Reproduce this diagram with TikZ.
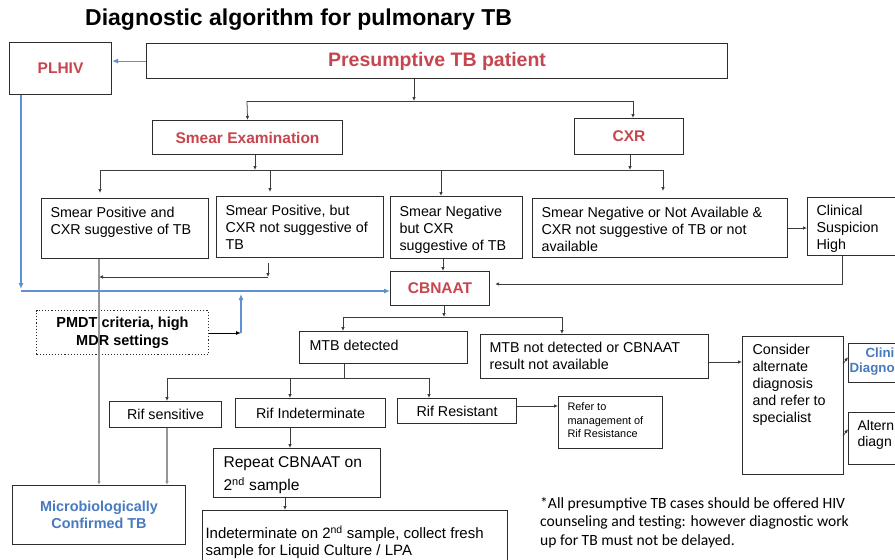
\documentclass[tikz,border=0pt]{standalone}
\usepackage{fontspec}
\setmainfont{Liberation Sans}
\newfontfamily\calfont{Carlito}
\usetikzlibrary{arrows.meta}
\definecolor{tbred}{RGB}{199,69,78}
\definecolor{tbblue}{RGB}{72,122,192}
\definecolor{lnblue}{RGB}{95,145,210}
\definecolor{boxln}{RGB}{45,45,45}
\definecolor{conn}{RGB}{60,60,60}
\definecolor{lgray}{RGB}{150,150,150}
% width, height, left pad, first baseline offset, text
\newcommand{\tlbox}[5]{\parbox[c][#2pt][t]{#1pt}{\raggedright\leftskip=#3pt\relax\vspace*{\dimexpr #4pt-11pt\relax}\rule{0pt}{11pt}#5\par}}
\begin{document}
\begin{tikzpicture}[x=1pt,y=-1pt,
 bx/.style={draw=boxln, line width=1.1pt, inner sep=0pt, anchor=north west},
 cbx/.style={bx, align=center},
 fbody/.style={font=\fontsize{14.3}{17}\selectfont},
 fhead/.style={font=\bfseries\fontsize{15.5}{18}\selectfont, text=tbred},
 fblue/.style={font=\bfseries\fontsize{14.4}{17}\selectfont, text=tbblue},
 arr/.style={draw=conn, line width=0.75pt, -{Latex[length=4pt,width=3.5pt]}},
 ln/.style={draw=conn, line width=0.75pt},
 garr/.style={draw=lgray, line width=1.1pt, -{Latex[length=4pt,width=3.5pt]}},
 barr/.style={draw=lnblue, line width=1.1pt, -{Latex[length=6pt,width=5pt]}},
]
\useasboundingbox (0,0) rectangle (895,560);
\fill[white] (0,0) rectangle (895,560);
\clip (0,0) rectangle (895,560);

% title
\node[anchor=base west, inner sep=0pt, font=\bfseries\fontsize{23}{27}\selectfont] (title) at (85,25) {Diagnostic algorithm for pulmonary TB};

% top level
\node[cbx, fhead, minimum width=102pt, minimum height=52pt] (plhiv) at (9,42) {PLHIV};
\node[cbx, fhead, font=\bfseries\fontsize{19.5}{22}\selectfont, minimum width=581pt, minimum height=35pt] (pres) at (146,43) {Presumptive TB patient};
\node[cbx, fhead, minimum width=190pt, minimum height=34pt] (smear) at (152,120) {Smear Examination};
\node[cbx, fhead, minimum width=109pt, minimum height=36pt] (cxr) at (574,118) {CXR};

% second row
\node[bx, fbody] (A) at (41,198) {\tlbox{167}{60}{9}{19}{Smear Positive and\\CXR suggestive of TB}};
\node[bx, fbody] (B) at (216,196) {\tlbox{167}{61}{9}{19}{Smear Positive, but\\CXR not suggestive of\\TB}};
\node[bx, fbody] (C) at (390,196) {\tlbox{132}{62}{9}{20}{Smear Negative\\but CXR\\suggestive of TB}};
\node[bx, fbody] (D) at (532,198) {\tlbox{255}{59}{9}{19}{Smear Negative or Not Available \&\\CXR not suggestive of TB or not\\available}};
\node[bx, fbody] (E) at (807,197) {\tlbox{100}{58}{9}{18}{Clinical\\Suspicion\\High}};

% CBNAAT and PMDT
\node[cbx, fhead, minimum width=99pt, minimum height=34pt] (cbnaat) at (390,271) {CBNAAT};
\node[cbx, dotted, font=\bfseries\fontsize{14.5}{18}\selectfont, minimum width=172pt, minimum height=44pt] (pmdt) at (36,310) {PMDT criteria, high\\MDR settings};

% results
\node[bx, fbody] (mtbd) at (299,331) {\tlbox{168}{32}{10}{19}{MTB detected}};
\node[bx, fbody] (mtbn) at (480,334) {\tlbox{228}{44}{9}{18}{MTB not detected or CBNAAT\\result not available}};
\node[bx, fbody] (consider) at (742,336) {\tlbox{101}{138}{10}{18}{Consider\\alternate\\diagnosis\\and refer to\\specialist}};
\node[bx, font=\bfseries\fontsize{13.3}{15}\selectfont, text=tbblue] (clin) at (848,343) {\tlbox{62}{39}{1}{14}{\hspace*{16pt}Clini\\Diagno}};
\node[bx, font=\fontsize{14}{16}\selectfont] (alt) at (848,412) {\tlbox{62}{52}{9}{18}{Altern\\diagn}};

% rif row
\node[cbx, fbody, minimum width=112pt, minimum height=26pt] (rifs) at (109,401) {Rif sensitive};
\node[cbx, fbody, minimum width=150pt, minimum height=29pt] (rifi) at (235,398) {Rif Indeterminate};
\node[cbx, fbody, minimum width=119pt, minimum height=25pt] (rifr) at (397,398) {Rif Resistant};
\node[bx, font=\fontsize{10.9}{13.5}\selectfont] (refer) at (558,396) {\tlbox{104}{52}{9}{14}{Refer to\\management of\\Rif Resistance}};

\node[bx, font=\fontsize{15.6}{23}\selectfont] (repeat) at (213,448) {\tlbox{167}{49}{10}{19}{Repeat CBNAAT on\\2\textsuperscript{nd} sample}};
\node[bx, font=\fontsize{15}{17}\selectfont] (indet) at (202,510) {\tlbox{305}{65}{3}{26}{Indeterminate on 2\textsuperscript{nd} sample, collect fresh\\sample for Liquid Culture / LPA}};
\node[cbx, fblue, minimum width=173pt, minimum height=59pt] (micro) at (12,485) {Microbiologically\\Confirmed TB};

% footnote
\node[anchor=north west, inner sep=0pt, font=\calfont\fontsize{15.6}{18.7}\selectfont] (foot) at (540,496) {\parbox[t]{340pt}{\raggedright\rule{0pt}{12pt}*All presumptive TB cases should be offered HIV\\counseling and testing: however diagnostic work\\up for TB must not be delayed.}};

% ---- connectors ----
\coordinate (j1) at (414,101);
\coordinate (j1l) at (247,101);
\coordinate (j1r) at (633,101);
\draw[barr] (pres.west) -- (pres.west -| plhiv.east);
\draw[arr] (pres.south -| j1) -- (j1);
\draw[ln] (j1l) -- (j1r);
\draw[arr] (j1l) -- (smear.north);
\draw[arr] (j1r) -- (j1r |- cxr.north);

\coordinate (s1) at (255,170);
\coordinate (c1) at (630,170);
\coordinate (h2l) at (100,170);
\coordinate (h2b) at (270,170);
\coordinate (h2m) at (441,170);
\coordinate (h2r) at (663,170);
\draw[arr] (smear.south -| s1) -- (s1);
\draw[arr] (cxr.south -| c1) -- (c1);
\draw[ln] (h2l) -- (h2r);
\draw[arr, shorten >=5pt] (h2l) -- (h2l |- A.north);
\draw[arr, shorten >=4pt] (h2b) -- (h2b |- B.north);
\draw[arr] (h2m) -- (h2m |- C.north);
\draw[arr, shorten >=7pt] (h2r) -- (h2r |- D.north);
\coordinate (de) at (0,228);
\draw[arr] (D.east |- de) -- (E.west |- de);

% to microbiologically confirmed
\coordinate (a0) at (99,0);
\draw[garr] (A.south -| a0) -- (micro.north -| a0);
\coordinate (b1) at (268,263);
\coordinate (b2) at (268,277);
\draw[arr] (b1) -- (b2);
\draw[arr] (b2) -- (b2 -| a0);

% to CBNAAT
\coordinate (cx) at (443,0);
\draw[arr] (C.south -| cx) -- (cbnaat.north -| cx);
\coordinate (e1) at (842,284);
\draw[arr, shorten >=5pt] (E.south -| e1) -- (e1) -- (e1 -| cbnaat.east);
\coordinate (p1) at (21,289);
\coordinate (p2) at (21,291);
\draw[barr] (plhiv.south -| p1) -- (p1);
\draw[barr] (p2) -- (p2 -| cbnaat.west);
\coordinate (m1) at (241,333);
\coordinate (m2) at (241,294);
\draw[draw=black, line width=0.9pt, -{Latex[length=5pt,width=4pt]}] (pmdt.east |- m1) -- (m1);
\draw[barr] (m1) -- (m2);

% from CBNAAT
\coordinate (k1) at (444,317);
\coordinate (k1l) at (343,317);
\coordinate (k1r) at (562,317);
\draw[arr] (cbnaat.south -| k1) -- (k1);
\draw[ln] (k1l) -- (k1r);
\draw[arr] (k1l) -- (k1l |- mtbd.north);
\draw[arr] (k1r) -- (k1r |- mtbn.north);
\coordinate (n1) at (0,362);
\draw[arr] (mtbn.east |- n1) -- (consider.west |- n1);
\coordinate (q1) at (843,364);
\coordinate (q2) at (848,357);
\coordinate (q3) at (843,436);
\coordinate (q4) at (848,429);
\draw[arr] (q1) -- (q2);
\draw[arr] (q3) -- (q4);

% from MTB detected
\coordinate (d1) at (344,378);
\coordinate (d1l) at (167,378);
\coordinate (d1m) at (290,378);
\coordinate (d1r) at (429,378);
\draw[ln] (mtbd.south -| d1) -- (d1);
\draw[ln] (d1l) -- (d1r);
\draw[arr] (d1l) -- (d1l |- rifs.north);
\draw[arr] (d1m) -- (d1m |- rifi.north);
\draw[arr] (d1r) -- (d1r |- rifr.north);
\coordinate (r1) at (0,406);
\draw[arr] (rifr.east |- r1) -- (refer.west |- r1);
\draw[garr] (rifs.south -| d1l) -- (micro.north -| d1l);
\draw[arr] (rifi.south -| d1m) -- (repeat.north -| d1m);
\coordinate (rp) at (285,0);
\draw[arr] (repeat.south -| rp) -- (indet.north -| rp);
\end{tikzpicture}
\end{document}
